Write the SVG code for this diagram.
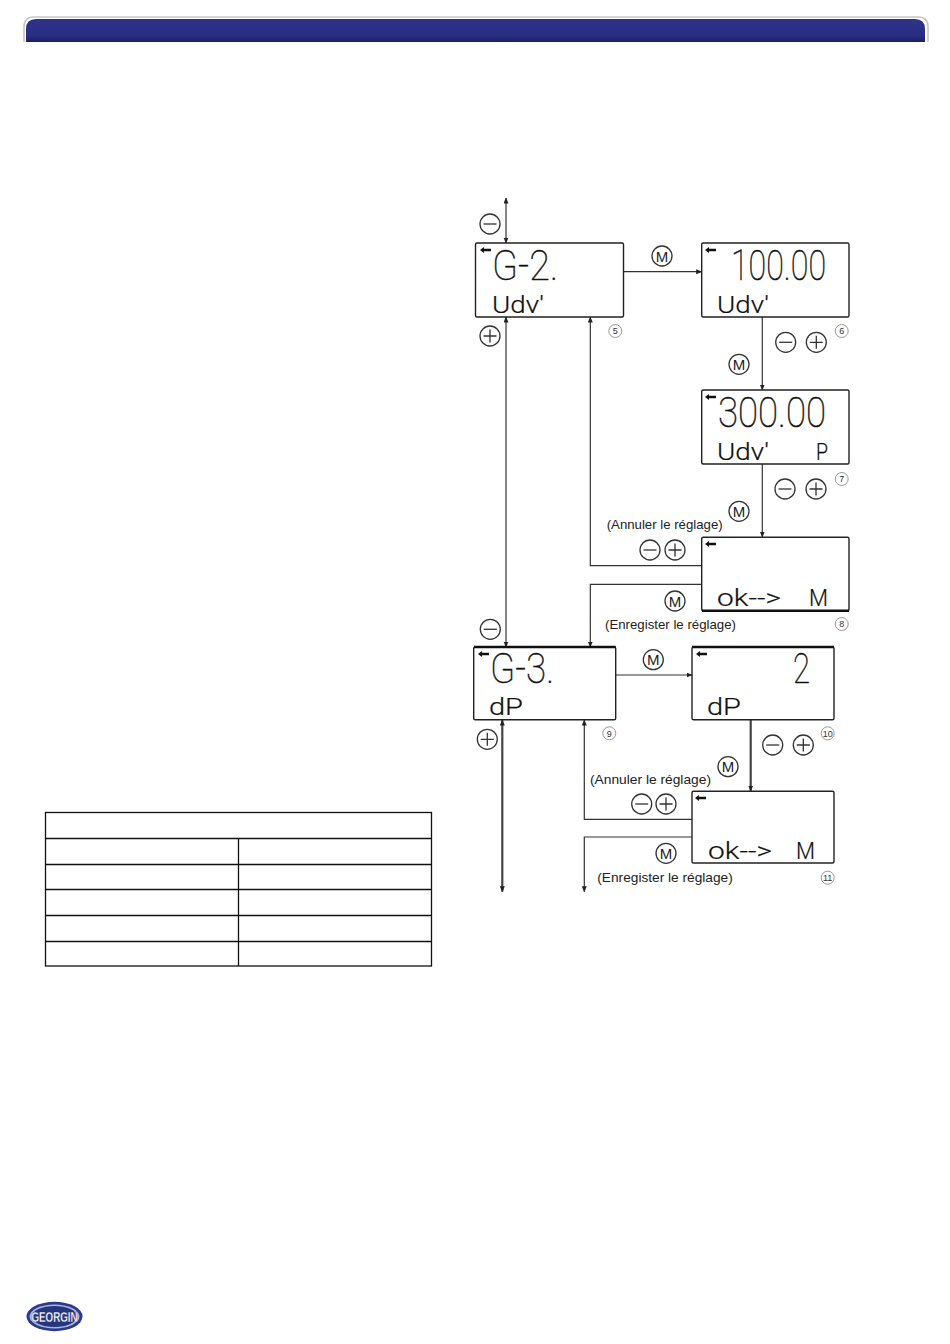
<svg xmlns="http://www.w3.org/2000/svg" width="950" height="1344" viewBox="0 0 950 1344">
<style>
.box{fill:#fff;stroke:#222;stroke-width:1.4}
.top{stroke:#111;stroke-width:2.6;fill:none}
.lcdB{font-family:Roboto,"Liberation Sans",sans-serif;font-weight:100;font-size:42px;fill:#111;stroke:#111;stroke-width:.5}
.lcdS{font-family:Roboto,"Liberation Sans",sans-serif;font-weight:300;font-size:23px;fill:#111;stroke:#111;stroke-width:.2}
.lab{font-family:"Liberation Sans",Arial,sans-serif;font-size:13.5px;fill:#222}
.c{fill:#fff;stroke:#333;stroke-width:1.3}
.g{stroke:#333;stroke-width:1.3;fill:none}
.m{font-family:"Liberation Sans",Arial,sans-serif;font-size:15px;fill:#222;text-anchor:middle}
.n{fill:#fff;stroke:#999;stroke-width:1}
.nt{font-family:"Liberation Sans",Arial,sans-serif;font-size:9px;fill:#333;text-anchor:middle}
.w{stroke:#333;stroke-width:1.2;fill:none}
.w2{stroke:#444;stroke-width:2.2;fill:none}
.tb{stroke:#111;stroke-width:1.3;fill:none}
</style>
<defs>
<linearGradient id="bar" x1="0" y1="0" x2="0" y2="1"><stop offset="0" stop-color="#2e3288"/><stop offset=".7" stop-color="#2a2e84"/><stop offset="1" stop-color="#1b1f5e"/></linearGradient>
<marker id="a" markerWidth="8" markerHeight="8" refX="5.5" refY="2.5" orient="auto-start-reverse" markerUnits="userSpaceOnUse"><path d="M0 0L6 2.5L0 5z" fill="#222"/></marker>
<g id="ptr"><path d="M0 0L4 -3V-1.2H11V1.2H4V3z" fill="#111"/></g>
<g id="minus"><circle class="c" r="10"/><path class="g" d="M-6.5 0H6.5"/></g>
<g id="plus"><circle class="c" r="10"/><path class="g" d="M-6.5 0H6.5M0 -6.5V6.5"/></g>
</defs>
<rect width="950" height="1344" fill="#fff"/>

<g id="header">
<path d="M24 42V27Q24 17 34 17H918Q928 17 928 27V42" fill="none" stroke="#c4c6c4" stroke-width="1.6"/>
<path d="M26 42V29Q26 19 36 19H915Q925 19 925 29V42z" fill="url(#bar)"/>
</g>

<g id="table">
<rect class="tb" x="45.5" y="812.5" width="386" height="153.5"/>
<path class="tb" d="M45.5 838.5H431.5M45.5 864.5H431.5M45.5 889.5H431.5M45.5 915.5H431.5M45.5 941.5H431.5M238.5 838.5V966"/>
</g>

<g id="connectors">
<path class="w" d="M506 198V243" marker-start="url(#a)" marker-end="url(#a)"/>
<path class="w" d="M506 317V647" marker-start="url(#a)" marker-end="url(#a)"/>
<path class="w" d="M702 565.7H590.3V317" marker-end="url(#a)"/>
<path class="w" d="M702 584.3H590.3V647" marker-end="url(#a)"/>
<path class="w" d="M623.5 271.7H701.7" marker-end="url(#a)"/>
<path class="w" d="M762.3 317V390" marker-end="url(#a)"/>
<path class="w" d="M762.3 464V537" marker-end="url(#a)"/>
<path class="w" d="M616 675H692" marker-end="url(#a)"/>
<path class="w2" d="M750.7 720V791" marker-end="url(#a)"/>
<path class="w2" d="M502.3 720V891.7" marker-start="url(#a)" marker-end="url(#a)"/>
<path class="w" d="M692 819.3H584.3V720" marker-end="url(#a)"/>
<path class="w" d="M692 837H584.3V891.7" marker-end="url(#a)"/>
</g>

<g id="node5">
<rect class="box" x="475.5" y="243" width="148" height="74" rx="1.5"/>
<use href="#ptr" x="480" y="250"/>
<text class="lcdB" x="492" y="280" textLength="66" lengthAdjust="spacingAndGlyphs">G-2.</text>
<text class="lcdS" x="492" y="312.5" textLength="52" lengthAdjust="spacingAndGlyphs">Udv'</text>
</g>
<g id="node6">
<rect class="box" x="701.7" y="243" width="147.3" height="74" rx="1.5"/>
<use href="#ptr" x="705" y="250"/>
<text class="lcdB" x="731" y="280" textLength="95" lengthAdjust="spacingAndGlyphs">100.00</text>
<text class="lcdS" x="717" y="312.5" textLength="52" lengthAdjust="spacingAndGlyphs">Udv'</text>
</g>
<g id="node7">
<rect class="box" x="701.7" y="390" width="147.3" height="74" rx="1.5"/>
<use href="#ptr" x="705" y="397"/>
<text class="lcdB" x="718" y="427" textLength="108" lengthAdjust="spacingAndGlyphs">300.00</text>
<text class="lcdS" x="717" y="459.5" textLength="52" lengthAdjust="spacingAndGlyphs">Udv'</text>
<text class="lcdS" x="816" y="459.5" textLength="12" lengthAdjust="spacingAndGlyphs">P</text>
</g>
<g id="node8">
<rect class="box" x="701.7" y="537.3" width="147.3" height="73.4" rx="1.5"/>
<path class="top" d="M702 610.7H849"/>
<use href="#ptr" x="705" y="544"/>
<text class="lcdS" x="717" y="606" textLength="64" lengthAdjust="spacingAndGlyphs">ok--&gt;</text>
<text class="lcdS" x="809" y="606" textLength="19" lengthAdjust="spacingAndGlyphs">M</text>
</g>
<g id="node9">
<rect class="box" x="473.7" y="647" width="142" height="72.7" rx="1.5"/>
<path class="top" d="M474 647H615.7"/>
<use href="#ptr" x="478" y="654"/>
<text class="lcdB" x="490" y="683" textLength="64" lengthAdjust="spacingAndGlyphs">G-3.</text>
<text class="lcdS" x="489" y="715" textLength="34" lengthAdjust="spacingAndGlyphs">dP</text>
</g>
<g id="node10">
<rect class="box" x="692" y="647" width="142" height="72.7" rx="1.5"/>
<path class="top" d="M692 647H834"/>
<use href="#ptr" x="696" y="654"/>
<text class="lcdB" x="793" y="683" textLength="17" lengthAdjust="spacingAndGlyphs">2</text>
<text class="lcdS" x="707" y="715" textLength="34" lengthAdjust="spacingAndGlyphs">dP</text>
</g>
<g id="node11">
<rect class="box" x="692" y="791.3" width="142" height="71.7" rx="1.5"/>
<use href="#ptr" x="695" y="798"/>
<text class="lcdS" x="708" y="859" textLength="64" lengthAdjust="spacingAndGlyphs">ok--&gt;</text>
<text class="lcdS" x="796" y="859" textLength="19" lengthAdjust="spacingAndGlyphs">M</text>
</g>

<g id="keys">
<use href="#minus" x="490" y="224"/>
<use href="#plus" x="490" y="336"/>
<g transform="translate(662 256)"><circle class="c" r="10"/><text class="m" y="5.5">M</text></g>
<use href="#minus" x="785.7" y="342.3"/>
<use href="#plus" x="816.3" y="342.3"/>
<g transform="translate(739 364.3)"><circle class="c" r="10"/><text class="m" y="5.5">M</text></g>
<use href="#minus" x="785" y="489"/>
<use href="#plus" x="816" y="489"/>
<g transform="translate(739 511.3)"><circle class="c" r="10"/><text class="m" y="5.5">M</text></g>
<use href="#minus" x="650" y="550"/>
<use href="#plus" x="675" y="550"/>
<g transform="translate(675 601)"><circle class="c" r="10"/><text class="m" y="5.5">M</text></g>
<use href="#minus" x="490.3" y="629.3"/>
<g transform="translate(653.3 659.7)"><circle class="c" r="10"/><text class="m" y="5.5">M</text></g>
<use href="#plus" x="487.3" y="739.3"/>
<use href="#minus" x="772.7" y="745"/>
<use href="#plus" x="803.3" y="745"/>
<g transform="translate(728 766.7)"><circle class="c" r="10"/><text class="m" y="5.5">M</text></g>
<use href="#minus" x="641.7" y="804"/>
<use href="#plus" x="666" y="804"/>
<g transform="translate(666 853.3)"><circle class="c" r="10"/><text class="m" y="5.5">M</text></g>
</g>

<g id="labels">
<text class="lab" x="606.7" y="529" textLength="116" lengthAdjust="spacingAndGlyphs">(Annuler le réglage)</text>
<text class="lab" x="605" y="629" textLength="131" lengthAdjust="spacingAndGlyphs">(Enregister le réglage)</text>
<text class="lab" x="590" y="784" textLength="121" lengthAdjust="spacingAndGlyphs">(Annuler le réglage)</text>
<text class="lab" x="597.3" y="881.7" textLength="135.5" lengthAdjust="spacingAndGlyphs">(Enregister le réglage)</text>
</g>

<g id="steps">
<circle class="n" cx="615.3" cy="331" r="6.5"/><text class="nt" x="615.3" y="334.3">5</text>
<circle class="n" cx="841.7" cy="331" r="6.5"/><text class="nt" x="841.7" y="334.3">6</text>
<circle class="n" cx="841.7" cy="479" r="6.5"/><text class="nt" x="841.7" y="482.3">7</text>
<circle class="n" cx="841.7" cy="624" r="6.5"/><text class="nt" x="841.7" y="627.3">8</text>
<circle class="n" cx="609.3" cy="733.3" r="6.5"/><text class="nt" x="609.3" y="736.6">9</text>
<circle class="n" cx="827.7" cy="733.3" r="6.5"/><text class="nt" x="827.7" y="736.6" font-size="8">10</text>
<circle class="n" cx="827.7" cy="877.7" r="6.5"/><text class="nt" x="827.7" y="881" font-size="8">11</text>
</g>

<g id="logo">
<ellipse cx="54.5" cy="1316.5" rx="28" ry="14.7" fill="#2a3a8c"/>
<ellipse cx="54.5" cy="1316.5" rx="25" ry="12" fill="#aab4dc"/>
<ellipse cx="54.5" cy="1316.5" rx="22.5" ry="10.5" fill="#26357f"/>
<text x="31.5" y="1322" font-family="'Liberation Sans',Arial,sans-serif" font-weight="700" font-size="15" fill="#fff" stroke="#1a2560" stroke-width=".3" textLength="46" lengthAdjust="spacingAndGlyphs">GEORGIN</text>
</g>
</svg>
